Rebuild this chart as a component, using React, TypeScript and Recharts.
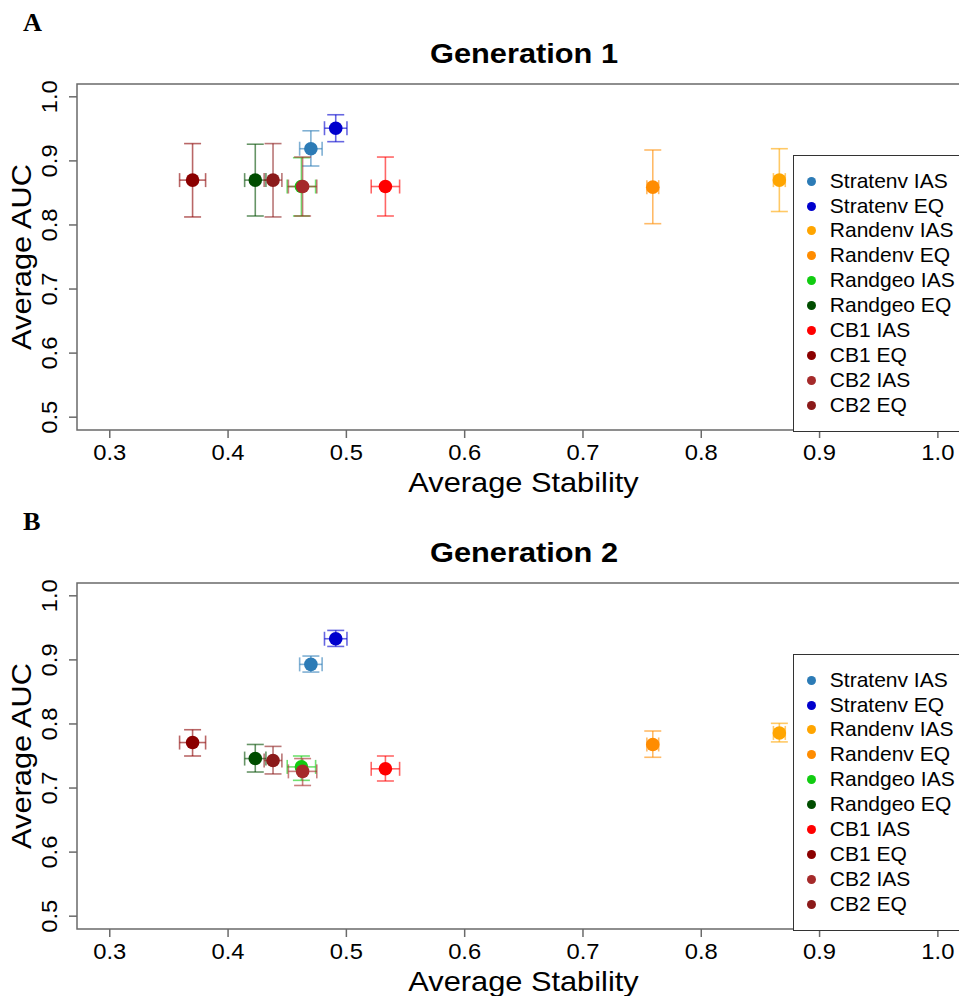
import React from 'react';
import {
    ScatterChart,
    Scatter,
    XAxis,
    YAxis,
    ErrorBar,
    ReferenceArea,
    Legend,
} from 'recharts';

const FONT = '"Liberation Sans", Arial, sans-serif';
const SERIF = '"Liberation Serif", "Times New Roman", serif';
const AXIS = '#6a6a6a';

const seriesNames = [
    'Stratenv IAS', 'Stratenv EQ', 'Randenv IAS', 'Randenv EQ', 'Randgeo IAS',
    'Randgeo EQ', 'CB1 IAS', 'CB1 EQ', 'CB2 IAS', 'CB2 EQ',
];
const seriesColors = [
    '#2C7BB6', '#0000CD', '#FFA500', '#FF8C00', '#11CC11',
    '#004D00', '#FF0000', '#8B0000', '#A52A2A', '#8B1A1A',
];

// Generation 1
const gen1Stability = [0.470, 0.491, 0.866, 0.759, 0.462, 0.423, 0.533, 0.370, 0.463, 0.438];
const gen1StabilityErr = [0.0095, 0.0095, 0.005, 0.005, 0.012, 0.009, 0.012, 0.011, 0.012, 0.0075];
const gen1Auc = [0.919, 0.951, 0.870, 0.859, 0.860, 0.870, 0.860, 0.870, 0.860, 0.870];
const gen1AucLow = [0.892, 0.930, 0.821, 0.802, 0.814, 0.814, 0.814, 0.8125, 0.814, 0.8125];
const gen1AucHigh = [0.947, 0.972, 0.919, 0.917, 0.905, 0.926, 0.906, 0.927, 0.906, 0.927];

// Generation 2
const gen2Stability = [0.470, 0.491, 0.866, 0.759, 0.462, 0.423, 0.533, 0.370, 0.463, 0.438];
const gen2StabilityErr = [0.0095, 0.0095, 0.005, 0.005, 0.012, 0.009, 0.012, 0.011, 0.012, 0.0075];
const gen2Auc = [0.893, 0.933, 0.786, 0.768, 0.733, 0.746, 0.730, 0.771, 0.726, 0.743];
const gen2AucLow = [0.881, 0.921, 0.772, 0.748, 0.712, 0.725, 0.711, 0.750, 0.704, 0.722];
const gen2AucHigh = [0.906, 0.946, 0.801, 0.789, 0.750, 0.768, 0.750, 0.791, 0.746, 0.765];

const xTicks = [0.3, 0.4, 0.5, 0.6, 0.7, 0.8, 0.9, 1.0];
const yTicks = [0.5, 0.6, 0.7, 0.8, 0.9, 1.0];
const X_DOMAIN: [number, number] = [0.2723, 1.028];
const Y_DOMAIN: [number, number] = [0.48, 1.02];

// plot box edges inside each 980x499 panel
const PLOT_LEFT = 77;
const PLOT_TOP = 84;
const PLOT_BOTTOM = 430;

const SText = ({ x, y, rotate = 0, size, sx = 1, anchor = 'middle', weight = 'normal', family = FONT, children }: any) => (
    <text
        transform={`translate(${x},${y}) rotate(${rotate}) scale(${sx},1)`}
        textAnchor={anchor}
        fontSize={size}
        fontWeight={weight}
        fontFamily={family}
        fill="#000"
    >
        {children}
    </text>
);

const XTick = (p: any) => (
    <g>
        <line x1={p.x} x2={p.x} y1={PLOT_BOTTOM} y2={PLOT_BOTTOM + 8} stroke={AXIS} strokeWidth={1.5} />
        <SText x={p.x} y={PLOT_BOTTOM + 30} size={22} sx={1.08}>{Number(p.payload.value).toFixed(1)}</SText>
    </g>
);

const YTick = (p: any) => (
    <g>
        <line x1={PLOT_LEFT - 8} x2={PLOT_LEFT} y1={p.y} y2={p.y} stroke={AXIS} strokeWidth={1.5} />
        <SText x={PLOT_LEFT - 20.5} y={p.y} rotate={-90} size={22} sx={1.08}>{Number(p.payload.value).toFixed(1)}</SText>
    </g>
);

const LegendBox = ({ payload }: any) => {
    const items = [...(payload ?? [])].sort(
        (a: any, b: any) => seriesNames.indexOf(a.value) - seriesNames.indexOf(b.value),
    );
    return (
        <div style={{
            boxSizing: 'border-box', width: 200, height: 277, border: '1.5px solid #333',
            borderRight: 'none', background: '#fff', paddingTop: 12.7, fontFamily: FONT, fontSize: 21,
        }}>
            {items.map((entry: any) => (
                <div key={entry.value} style={{
                    position: 'relative', height: 24.9, lineHeight: '24.9px',
                    paddingLeft: 35.8, whiteSpace: 'nowrap', color: '#000',
                }}>
                    <span style={{
                        position: 'absolute', left: 13, top: 8, width: 9, height: 9,
                        borderRadius: '50%', background: entry.color,
                    }} />
                    {entry.value}
                </div>
            ))}
        </div>
    );
};

const Panel = ({ letter, title, stability, stabilityErr, auc, aucLow, aucHigh }: any) => {
    const rows = seriesNames.map((name, i) => ({
        name,
        color: seriesColors[i],
        x: stability[i],
        y: auc[i],
        ex: stabilityErr[i],
        ey: [auc[i] - aucLow[i], aucHigh[i] - auc[i]],
    }));

    return (
        <ScatterChart width={980} height={499} margin={{ top: PLOT_TOP, right: 9, left: 17, bottom: 9 }}>
            <ReferenceArea
                x1={X_DOMAIN[0]} x2={X_DOMAIN[1]} y1={Y_DOMAIN[0]} y2={Y_DOMAIN[1]}
                ifOverflow="visible" fill="none" fillOpacity={0} stroke={AXIS} strokeWidth={1.5}
                label={{
                    content: ({ viewBox }: any) => (
                        <g>
                            <SText x={viewBox.x + viewBox.width / 2} y={viewBox.y - 21} size={27} sx={1.14} weight="bold">{title}</SText>
                            <SText x={23} y={31} size={25} sx={1.05} weight="bold" anchor="start" family={SERIF}>{letter}</SText>
                            <SText x={viewBox.x + viewBox.width / 2 - 0.5} y={PLOT_BOTTOM + 62} size={27} sx={1.14}>Average Stability</SText>
                            <SText x={31} y={viewBox.y + viewBox.height / 2} rotate={-90} size={27} sx={1.14}>Average AUC</SText>
                        </g>
                    ),
                }}
            />
            <XAxis
                type="number" dataKey="x" domain={X_DOMAIN} ticks={xTicks} allowDataOverflow
                height={60} axisLine={false} tickLine={false} tick={XTick} interval={0}
            />
            <YAxis
                type="number" dataKey="y" domain={Y_DOMAIN} ticks={yTicks} allowDataOverflow
                width={60} axisLine={false} tickLine={false} tick={YTick} interval={0}
            />
            {rows.map((r) => (
                <Scatter
                    key={r.name}
                    name={r.name}
                    data={[r]}
                    fill={r.color}
                    isAnimationActive={false}
                    shape={(p: any) => <circle cx={p.cx} cy={p.cy} r={6.8} fill={r.color} />}
                >
                    <ErrorBar dataKey="ey" direction="y" width={8.5} stroke={r.color} strokeOpacity={0.6} strokeWidth={1.6} isAnimationActive={false} />
                    <ErrorBar dataKey="ex" direction="x" width={7} stroke={r.color} strokeOpacity={0.6} strokeWidth={1.6} isAnimationActive={false} />
                </Scatter>
            ))}
            <Legend
                layout="vertical" align="center" verticalAlign="middle"
                wrapperStyle={{ left: 793, top: 155, width: 200, height: 277 }}
                content={LegendBox}
            />
        </ScatterChart>
    );
};

export default function App() {
    return (
        <div style={{ position: 'absolute', left: 0, top: 0, width: 959, height: 996, overflow: 'hidden', background: '#fff' }}>
            <Panel letter="A" title="Generation 1" stability={gen1Stability} stabilityErr={gen1StabilityErr}
                auc={gen1Auc} aucLow={gen1AucLow} aucHigh={gen1AucHigh} />
            <Panel letter="B" title="Generation 2" stability={gen2Stability} stabilityErr={gen2StabilityErr}
                auc={gen2Auc} aucLow={gen2AucLow} aucHigh={gen2AucHigh} />
        </div>
    );
}
